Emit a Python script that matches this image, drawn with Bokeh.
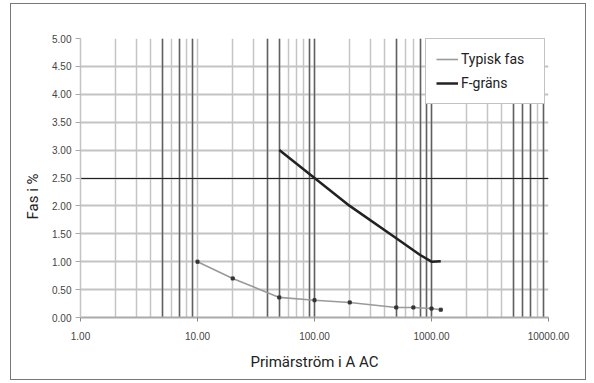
from bokeh.plotting import figure
from bokeh.models import (Range1d, FixedTicker, PrintfTickFormatter, Grid,
                          Legend, LegendItem, Title)
from bokeh.embed import file_html
from bokeh.resources import INLINE

# ---- data ----
x_major = [1, 10, 100, 1000, 10000]
x_minor = [m * d for d in [1, 10, 100, 1000] for m in range(2, 10)]
y_ticks = [0.0, 0.5, 1.0, 1.5, 2.0, 2.5, 3.0, 3.5, 4.0, 4.5, 5.0]

typ_x = [10, 20, 50, 100, 200, 500, 700, 1000, 1200]
typ_y = [1.00, 0.70, 0.36, 0.31, 0.27, 0.18, 0.18, 0.16, 0.14]

f_x = [50, 100, 200, 500, 800, 1000, 1200]
f_y = [3.00, 2.50, 2.00, 1.42, 1.12, 1.00, 1.01]

series_names = ["Typisk fas", "F-gräns"]
x_title = "Primärström i A AC"
y_title = "Fas i %"

# darker-looking vertical grid lines in the scan
dark_x = [5, 7, 9, 40, 50, 90, 100, 500, 800, 900, 1000, 5000, 6000, 7000, 9000]

FONT = "Roboto"

p = figure(width=576, height=377, x_axis_type="log",
           x_range=Range1d(1, 10000), y_range=Range1d(0, 5),
           output_backend="svg", toolbar_location=None,
           min_border_left=69, min_border_right=39,
           min_border_top=34, min_border_bottom=64)
p.styles = {"border": "1px solid #777777", "margin-left": "10px",
            "margin-top": "3px"}
p.outline_line_color = None
p.background_fill_color = "white"
p.border_fill_color = "white"

light = "#c4c4c4"

# x axis
p.xaxis.ticker = FixedTicker(ticks=x_major, minor_ticks=x_minor)
p.xaxis.formatter = PrintfTickFormatter(format="%.2f")
p.xaxis.axis_line_color = "#aaaaaa"
p.xaxis.axis_line_width = 2
p.xaxis.major_tick_line_color = "#888888"
p.xaxis.major_tick_out = 4
p.xaxis.major_tick_in = 0
p.xaxis.minor_tick_line_color = None
p.xaxis.major_label_text_font = "Liberation Sans"
p.xaxis.major_label_text_font_size = "10px"
p.xaxis.major_label_text_color = "#444444"
p.xaxis.major_label_standoff = 10
p.xaxis.axis_label = x_title
p.xaxis.axis_label_text_font = FONT
p.xaxis.axis_label_text_font_size = "15px"
p.xaxis.axis_label_text_font_style = "normal"
p.xaxis.axis_label_text_color = "#222222"
p.xaxis.axis_label_standoff = 10

# y axis
p.yaxis.ticker = FixedTicker(ticks=y_ticks)
p.yaxis.formatter = PrintfTickFormatter(format="%.2f")
p.yaxis.axis_line_color = light
p.yaxis.axis_line_width = 1.5
p.yaxis.major_tick_line_color = "#aaaaaa"
p.yaxis.major_tick_out = 5
p.yaxis.major_tick_in = 0
p.yaxis.minor_tick_line_color = None
p.yaxis.major_label_text_font = "Liberation Sans"
p.yaxis.major_label_text_font_size = "10px"
p.yaxis.major_label_text_color = "#444444"
p.yaxis.major_label_standoff = 4

# grids
p.xgrid.grid_line_color = light
p.xgrid.grid_line_width = 1.5
p.xgrid.minor_grid_line_color = light
p.xgrid.minor_grid_line_width = 1.5
p.ygrid.grid_line_color = light
p.ygrid.grid_line_width = 2

dark_grid = Grid(dimension=0, ticker=FixedTicker(ticks=dark_x),
                 grid_line_color="#606060", grid_line_width=1.5)
p.add_layout(dark_grid)
mid_grid = Grid(dimension=1, ticker=FixedTicker(ticks=[2.5]),
                grid_line_color="#222222", grid_line_width=1)
p.add_layout(mid_grid)

# series
r1 = p.line(typ_x, typ_y, line_color="#9a9a9a", line_width=1.6)
p.scatter(typ_x, typ_y, marker="square", size=3, fill_color="#333333",
          line_color="#333333")
r2 = p.line(f_x, f_y, line_color="#222222", line_width=2.5)

legend = Legend(items=[LegendItem(label=series_names[0], renderers=[r1]),
                       LegendItem(label=series_names[1], renderers=[r2])],
                location=(345, 213))
legend.label_text_font = FONT
legend.label_text_font_size = "14px"
legend.label_text_color = "#222222"
legend.border_line_color = "#888888"
legend.border_line_width = 1.5
legend.background_fill_color = "white"
legend.background_fill_alpha = 1
legend.padding = 10
legend.spacing = 4
legend.margin = 0
legend.glyph_width = 22
legend.glyph_height = 20
legend.label_height = 20
legend.label_width = 73
legend.label_standoff = 3
p.add_layout(legend)

ytitle = Title(text=y_title, align="left", offset=98, standoff=16,
               text_font=FONT, text_font_size="15px",
               text_font_style="normal", text_color="#222222")
p.add_layout(ytitle, "left")

open("out.html", "w").write(file_html(p, INLINE))
